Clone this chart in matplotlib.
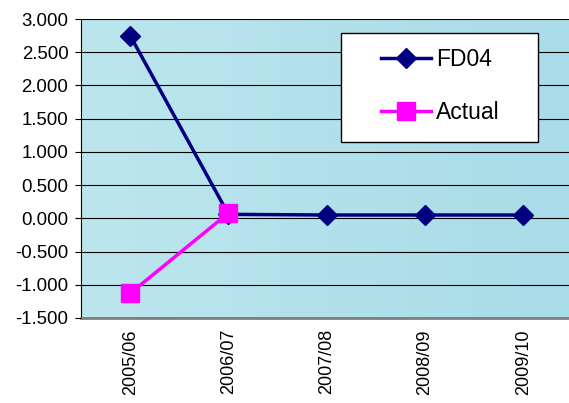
import numpy as np
import matplotlib.pyplot as plt
from matplotlib.patches import Rectangle
from matplotlib.colors import LinearSegmentedColormap

plt.rcParams['font.family'] = ['Liberation Sans', 'DejaVu Sans']

categories = ['2005/06', '2006/07', '2007/08', '2008/09', '2009/10']
fd04 = [2.75, 0.06, 0.05, 0.05, 0.05]
actual = [-1.13, 0.08]

W, H = 569, 403
fig = plt.figure(figsize=(W / 100, H / 100), dpi=100)
left, right, top, bottom = 81, 572.5, 19, 318
ax = fig.add_axes([left / W, 1 - bottom / H, (right - left) / W, (bottom - top) / H])

# water-like background, a soft gradient
grad = np.linspace(0, 1, 256).reshape(1, -1)
ax.imshow(grad, extent=[-0.5, 4.5, -1.5, 3.0], aspect='auto',
          cmap=LinearSegmentedColormap.from_list('w', ['#bce6ee', '#a8dce8']),
          zorder=0)

ax.set_xlim(-0.5, 4.5)
ax.set_ylim(-1.5, 3.0)
yt = np.arange(-1.5, 3.01, 0.5)
ax.set_yticks(yt)
ax.set_yticklabels(['%.3f' % v for v in yt])
ax.yaxis.grid(True, color='black', linewidth=0.8, zorder=1)
ax.set_axisbelow(False)

x = np.arange(len(categories))
ax.plot(x, fd04, color='#000080', linewidth=2.5, marker='D', markersize=10,
        label='FD04', zorder=3)
ax.plot(x[:len(actual)], actual, color='#ff00ff', linewidth=2.5, marker='s',
        markersize=13, label='Actual', zorder=3)

ax.set_xticks(x)
ax.set_xticklabels(categories, rotation=90)
ax.tick_params(axis='x', length=0, pad=8, labelsize=13)
ax.tick_params(axis='y', length=4, direction='out', labelsize=13.4, pad=5)

for s in ['top', 'right']:
    ax.spines[s].set_visible(False)
ax.spines['left'].set_color('black')
ax.spines['bottom'].set_color('#808080')
ax.spines['bottom'].set_linewidth(2)

# legend box
fig.patches.append(Rectangle((341 / W, 1 - 142 / H), 197 / W, 109 / H,
                             transform=fig.transFigure, facecolor='white',
                             edgecolor='black', linewidth=1, zorder=4))
leg = fig.legend(*ax.get_legend_handles_labels(), loc='center left',
                 bbox_to_anchor=(381 / W, 1 - 86 / H),
                 fontsize=16.5, frameon=False, borderpad=0, borderaxespad=0,
                 labelspacing=1.3, handlelength=2.2, handletextpad=0.2)
leg.set_zorder(5)

fig.savefig('out.png', dpi=100)
